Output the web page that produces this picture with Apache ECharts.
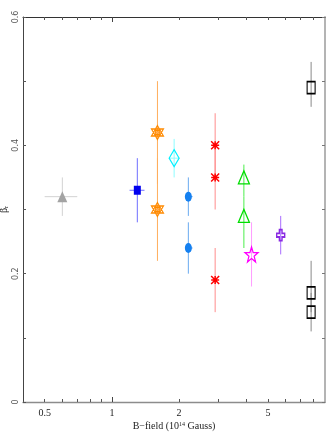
<!DOCTYPE html>
<html>
<head>
<meta charset="utf-8">
<script src="https://cdn.jsdelivr.net/npm/echarts@6/dist/echarts.min.js"></script>
<style>html,body{margin:0;padding:0;background:#fff;}#c{width:327px;height:436px;}</style>
</head>
<body>
<div id="c"></div>
<script>
// ---- data (B-field in 10^14 Gauss, beta_r) ----
const bField   = [0.60, 1.30, 1.60, 1.60, 1.90, 2.20, 2.20, 2.90, 2.90, 2.90, 3.90, 3.90, 4.22, 5.70, 7.80, 7.80, 7.80];
const beta     = [0.32, 0.33, 0.42, 0.30, 0.38, 0.32, 0.24, 0.40, 0.35, 0.19, 0.35, 0.29, 0.23, 0.26, 0.49, 0.17, 0.14];
const betaLow  = [0.29, 0.28, 0.34, 0.22, 0.35, 0.29, 0.20, 0.35, 0.30, 0.14, 0.32, 0.24, 0.18, 0.23, 0.46, 0.14, 0.11];
const betaHigh = [0.35, 0.38, 0.50, 0.38, 0.41, 0.35, 0.28, 0.45, 0.40, 0.24, 0.37, 0.32, 0.28, 0.29, 0.53, 0.22, 0.17];
const bLow     = [0.50, 1.20, 1.55, 1.55, 1.80, 2.14, 2.14, 2.90, 2.90, 2.90, 3.90, 3.90, 4.22, 5.70, 7.80, 7.80, 7.80];
const bHigh    = [0.70, 1.40, 1.66, 1.66, 2.01, 2.30, 2.30, 2.90, 2.90, 2.90, 3.90, 3.90, 4.22, 5.70, 7.80, 7.80, 7.80];
const group    = [0, 1, 2, 2, 3, 4, 4, 5, 5, 5, 6, 6, 7, 8, 9, 9, 9];
const xTickLabels = [0.5, 1, 2, 5];
const xMinorTicks = [0.5, 0.6, 0.7, 0.8, 0.9, 2, 3, 4, 5, 6, 7, 8];
const xMajorTicks = [1];
const yTickLabels = [0, 0.2, 0.4, 0.6];

// ---- styles per group ----
const lineColors = ['#d2d2d2', '#6f6fff', '#ffae5c', '#8ffcff', '#6aaaf0', '#ff8c8c', '#4cee4c', '#ff9cff', '#a86cff', '#8a8a8a'];
const styles = [
  {symbol: 'triangle', size: [10, 11], fill: '#a3a3a3', stroke: '#a3a3a3', w: 0},
  {symbol: 'rect', size: [7, 9], fill: '#0000ee', stroke: '#0000ee', w: 0},
  {symbol: 'path://M0,-10L8.66,5L-8.66,5ZM0,10L8.66,-5L-8.66,-5ZM-4.33,-2.5L4.33,-2.5M-4.33,2.5L4.33,2.5M-2.5,-5L-2.5,5M2.5,-5L2.5,5', size: [12, 14], fill: 'transparent', stroke: '#ff8a00', w: 1.2},
  {symbol: 'diamond', size: [10, 17], fill: 'transparent', stroke: '#00f0ff', w: 1.2},
  {symbol: 'circle', size: [7, 10], fill: '#1580f0', stroke: '#1580f0', w: 0},
  {symbol: 'path://M-5,-5L5,5M5,-5L-5,5M-5,0L5,0M0,-5L0,5', size: [8, 8], fill: '#ff0000', stroke: '#ff0000', w: 1.5},
  {symbol: 'triangle', size: [11, 13], fill: 'transparent', stroke: '#00dd00', w: 1.3},
  {symbol: 'path://M0,-10L2.35,-3.24L9.51,-3.09L3.8,1.24L5.88,8.09L0,4L-5.88,8.09L-3.8,1.24L-9.51,-3.09L-2.35,-3.24Z', size: [13, 15], fill: 'transparent', stroke: '#ff00ff', w: 1.3},
  {symbol: 'path://M-1,-3L1,-3L1,-1L3,-1L3,1L1,1L1,3L-1,3L-1,1L-3,1L-3,-1L-1,-1Z', size: [8, 11], fill: 'transparent', stroke: '#8a2be2', w: 1.6},
  {symbol: 'rect', size: [8, 12], fill: 'transparent', stroke: '#000000', w: 1.3}
];

const L = v => Math.log10(v);
const errData = bField.map((b, i) => [L(b), beta[i], betaLow[i], betaHigh[i], L(bLow[i]), L(bHigh[i]), group[i]]);

const series = [{
  type: 'custom',
  z: 1,
  silent: true,
  encode: {x: 0, y: 1},
  data: errData,
  renderItem: function (params, api) {
    const x = api.value(0), y = api.value(1);
    const c = lineColors[api.value(6)];
    const p1 = api.coord([x, api.value(2)]), p2 = api.coord([x, api.value(3)]);
    const q1 = api.coord([api.value(4), y]), q2 = api.coord([api.value(5), y]);
    return {type: 'group', children: [
      {type: 'line', shape: {x1: p1[0], y1: p1[1], x2: p2[0], y2: p2[1]}, style: {stroke: c, lineWidth: 1}},
      {type: 'line', shape: {x1: q1[0], y1: q1[1], x2: q2[0], y2: q2[1]}, style: {stroke: c, lineWidth: 1}}
    ]};
  }
}];
styles.forEach((s, g) => {
  const pts = [];
  bField.forEach((b, i) => { if (group[i] === g) pts.push([L(b), beta[i]]); });
  series.push({
    type: 'scatter', z: 3, silent: true,
    symbol: s.symbol, symbolSize: s.size,
    itemStyle: {color: s.fill, borderColor: s.stroke, borderWidth: s.w, opacity: 1},
    data: pts
  });
});

const FONT = 'Liberation Serif';
const chart = echarts.init(document.getElementById('c'), null, {renderer: 'canvas'});
chart.setOption({
  animation: false,
  grid: {left: 23, right: 2, top: 17, bottom: 34, containLabel: false, outerBoundsMode: 'none'},
  xAxis: [
    {type: 'value', position: 'bottom', min: L(0.4), max: L(9),
     axisLine: {onZero: false, lineStyle: {color: '#8c8c8c', width: 1.3}},
     axisTick: {inside: true, length: 3, customValues: xMinorTicks.map(L), lineStyle: {color: '#555'}},
     axisLabel: {customValues: xTickLabels.map(L), formatter: v => String(+Math.pow(10, v).toFixed(2)), margin: 6,
                 fontFamily: FONT, fontSize: 10, color: '#222'},
     splitLine: {show: false},
     name: 'B\u2212field (10{s|14} Gauss)', nameLocation: 'middle', nameGap: 19, nameMoveOverlap: false,
     nameTextStyle: {fontFamily: FONT, fontSize: 10, color: '#222', rich: {s: {fontFamily: FONT, fontSize: 6, verticalAlign: 'top', padding: [0, 0, 4, 0]}}}},
    {type: 'value', position: 'bottom', min: L(0.4), max: L(9),
     axisLine: {show: false, onZero: false},
     axisTick: {inside: true, length: 5, customValues: xMajorTicks.map(L), lineStyle: {color: '#444'}},
     axisLabel: {show: false}, splitLine: {show: false}},
    {type: 'value', position: 'top', min: L(0.4), max: L(9),
     axisLine: {onZero: false, lineStyle: {color: '#333', width: 1}},
     axisTick: {inside: true, length: 3, customValues: xMinorTicks.map(L), lineStyle: {color: '#555'}},
     axisLabel: {show: false}, splitLine: {show: false}},
    {type: 'value', position: 'top', min: L(0.4), max: L(9),
     axisLine: {show: false, onZero: false},
     axisTick: {inside: true, length: 5, customValues: xMajorTicks.map(L), lineStyle: {color: '#444'}},
     axisLabel: {show: false}, splitLine: {show: false}}
  ],
  yAxis: [
    {type: 'value', position: 'left', min: 0, max: 0.6, interval: 0.1,
     axisLine: {onZero: false, lineStyle: {color: '#444', width: 1}},
     axisTick: {inside: true, length: 3, lineStyle: {color: '#555'}},
     axisLabel: {customValues: yTickLabels, rotate: 90, margin: 3, fontFamily: 'DejaVu Sans', fontSize: 8, color: '#555',
                 formatter: v => String(+v.toFixed(1))},
     splitLine: {show: false},
     name: '\u03b2{s|r}', nameLocation: 'middle', nameRotate: 90, nameGap: 14, nameMoveOverlap: false,
     nameTextStyle: {fontFamily: FONT, fontSize: 10, color: '#111', rich: {s: {fontFamily: FONT, fontSize: 6, verticalAlign: 'bottom', padding: [4, 0, 0, 0]}}}},
    {type: 'value', position: 'right', min: 0, max: 0.6, interval: 0.1,
     axisLine: {onZero: false, lineStyle: {color: '#b4b4b4', width: 2}},
     axisTick: {inside: true, length: 3, lineStyle: {color: '#777'}},
     axisLabel: {show: false}, splitLine: {show: false}}
  ],
  series: series
});
</script>
</body>
</html>
